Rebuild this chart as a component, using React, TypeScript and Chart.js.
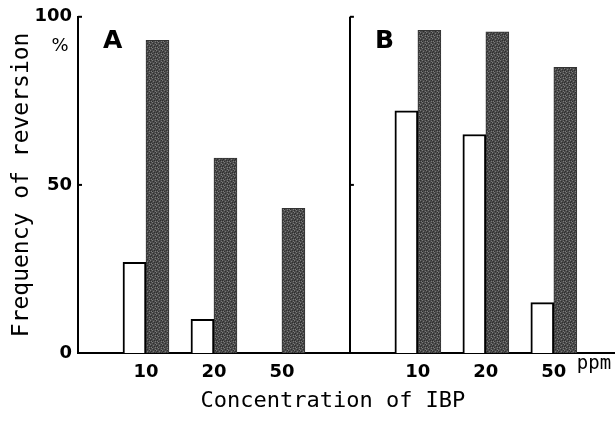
import React, { useEffect, useRef } from 'react';
import { Chart, registerables } from 'chart.js';

Chart.register(...registerables);

// ---- data ----
const concentrations = ['10', '20', '50'];
const panelLabels = ['A', 'B'];
const panelAxisPositions = [0, 4];
const panelAPositions = [1, 2, 3];
const panelBPositions = [5, 6, 7];
const panelAWhite: (number | null)[] = [27, 10, null];
const panelADark = [93, 58, 43];
const panelBWhite = [72, 65, 15];
const panelBDark = [96, 95.5, 85];
const yTickValues = [0, 50, 100];
const xTitle = 'Concentration of IBP';
const yTitle = 'Frequency of reversion';
const unitLabel = 'ppm';
const percentLabel = '%';

const xTickValues = [...panelAxisPositions, ...panelAPositions, ...panelBPositions].sort((a, b) => a - b);

function labelFor(v: number): string {
  let i = panelAPositions.indexOf(v);
  if (i >= 0) return concentrations[i];
  i = panelBPositions.indexOf(v);
  if (i >= 0) return concentrations[i];
  return '';
}

function makePattern(): CanvasPattern | string {
  const c = document.createElement('canvas');
  c.width = 6;
  c.height = 6;
  const g = c.getContext('2d');
  if (!g) return '#4e4e4e';
  g.fillStyle = '#4c4c4c';
  g.fillRect(0, 0, 6, 6);
  g.fillStyle = '#2e2e2e';
  [[0, 0], [3, 1], [5, 2], [1, 3], [4, 4], [2, 5], [0, 4]].forEach(([a, b]) => g.fillRect(a, b, 1, 1));
  g.fillStyle = '#7a7a7a';
  [[2, 0], [5, 1], [0, 2], [3, 3], [1, 5], [5, 5]].forEach(([a, b]) => g.fillRect(a, b, 1, 1));
  return g.createPattern(c, 'repeat') || '#4e4e4e';
}

const annotate = {
  id: 'annotate',
  afterDraw(chart: any) {
    const { ctx } = chart;
    const x = chart.scales.x;
    const y = chart.scales.y;
    ctx.save();
    ctx.fillStyle = '#000';
    ctx.strokeStyle = '#000';
    // panel letters
    ctx.font = 'bold 25px "DejaVu Sans"';
    ctx.textAlign = 'left';
    ctx.textBaseline = 'middle';
    panelAxisPositions.forEach((p, i) => {
      ctx.fillText(panelLabels[i], x.getPixelForValue(p) + 25, y.getPixelForValue(100) + 25);
    });
    // percent sign
    ctx.font = '18px "DejaVu Sans"';
    ctx.textAlign = 'center';
    ctx.fillText(percentLabel, x.getPixelForValue(0) - 18, y.getPixelForValue(100) + 30);
    // ppm
    ctx.font = '19px "DejaVu Sans Mono"';
    ctx.textAlign = 'left';
    ctx.fillText(unitLabel, x.getPixelForValue(7) + 23, y.getPixelForValue(0) + 11);
    // x title
    ctx.font = '22px "DejaVu Sans Mono"';
    ctx.textAlign = 'center';
    ctx.fillText(xTitle, x.getPixelForValue(3.75), y.getPixelForValue(0) + 48);
    // inner tick marks
    ctx.lineWidth = 2;
    panelAxisPositions.forEach((p) => {
      yTickValues.forEach((v) => {
        const px = x.getPixelForValue(p);
        const py = y.getPixelForValue(v);
        ctx.beginPath();
        ctx.moveTo(px, py);
        ctx.lineTo(px + 4, py);
        ctx.stroke();
      });
    });
    ctx.restore();
  },
};

export default function App() {
  const ref = useRef<HTMLCanvasElement>(null);
  useEffect(() => {
    if (!ref.current) return;
    const dark = makePattern();
    const chart = new Chart(ref.current, {
      type: 'bar',
      data: {
        datasets: [
          {
            label: 'white',
            data: [
              ...panelAPositions.map((p, i) => ({ x: p, y: panelAWhite[i] })),
              ...panelBPositions.map((p, i) => ({ x: p, y: panelBWhite[i] })),
            ] as any,
            backgroundColor: '#fff',
            borderColor: '#000',
            borderWidth: 2,
            barThickness: 23,
          },
          {
            label: 'dark',
            data: [
              ...panelAPositions.map((p, i) => ({ x: p, y: panelADark[i] })),
              ...panelBPositions.map((p, i) => ({ x: p, y: panelBDark[i] })),
            ] as any,
            backgroundColor: dark as any,
            borderColor: '#333',
            borderWidth: 1,
            barThickness: 23,
          },
        ],
      },
      options: {
        animation: false,
        responsive: false,
        devicePixelRatio: 1,
        layout: { padding: { top: 14, right: 0, left: 0, bottom: 0 } },
        plugins: { legend: { display: false }, tooltip: { enabled: false } },
        scales: {
          x: {
            type: 'linear',
            min: 0,
            max: 7.9,
            offset: false,
            afterBuildTicks: (s: any) => {
              s.ticks = xTickValues.map((v) => ({ value: v }));
            },
            afterFit: (s: any) => {
              s.height = 70;
            },
            ticks: {
              autoSkip: false,
              maxRotation: 0,
              padding: 9,
              color: '#000',
              font: { family: 'DejaVu Sans', size: 18, weight: 'bold' },
              callback: (v: any) => labelFor(Number(v)),
            },
            grid: {
              offset: false,
              drawTicks: false,
              lineWidth: 2,
              color: (c: any) => (c.tick && c.tick.value === panelAxisPositions[1] ? '#000' : 'rgba(0,0,0,0)'),
            },
            border: { display: true, color: '#000', width: 2 },
          },
          y: {
            type: 'linear',
            min: 0,
            max: 100,
            afterBuildTicks: (s: any) => {
              s.ticks = yTickValues.map((v) => ({ value: v }));
            },
            afterFit: (s: any) => {
              s.width = 78;
            },
            ticks: {
              padding: 6,
              color: '#000',
              font: { family: 'DejaVu Sans', size: 18, weight: 'bold' },
            },
            grid: { display: false, drawTicks: false },
            border: { display: true, color: '#000', width: 2 },
            title: {
              display: true,
              text: yTitle,
              color: '#000',
              font: { family: 'DejaVu Sans Mono', size: 23 },
              padding: { top: 8, bottom: 0 },
            },
          },
        },
      },
      plugins: [annotate],
    });
    return () => chart.destroy();
  }, []);
  return (
    <div style={{ position: 'absolute', left: 0, top: 0, width: 615, height: 423, background: '#fff' }}>
      <canvas ref={ref} width={615} height={423} style={{ display: 'block' }} />
    </div>
  );
}
